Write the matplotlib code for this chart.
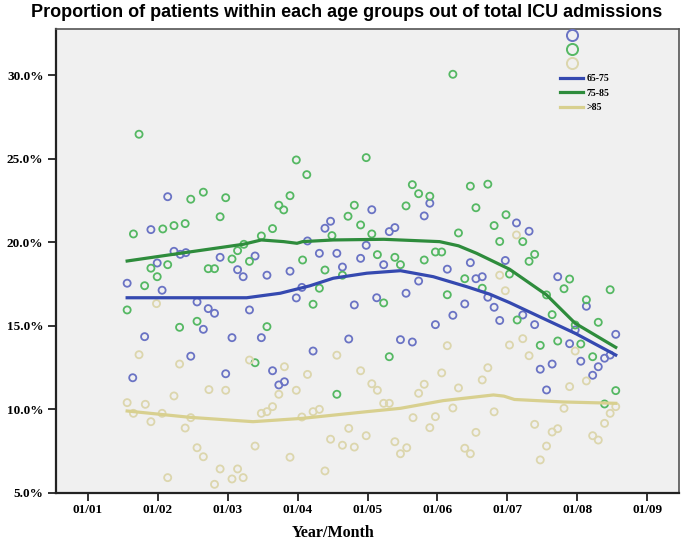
import matplotlib
matplotlib.use('Agg')
import matplotlib.pyplot as plt
from matplotlib.lines import Line2D
from matplotlib.ticker import FuncFormatter

# month position (1 = Jan 1st) and share of ICU admissions (%)
green_month = [1.56, 1.65, 1.73, 1.81, 1.90, 1.99, 2.07, 2.14, 2.23, 2.31,
               2.39, 2.47, 2.56, 2.65, 2.72, 2.81, 2.89, 2.97, 3.06, 3.14,
               3.23, 3.31, 3.39, 3.48, 3.56, 3.64, 3.73, 3.80, 3.89, 3.98,
               4.07, 4.13, 4.22, 4.31, 4.39, 4.49, 4.56, 4.64, 4.72, 4.81,
               4.90, 4.98, 5.06, 5.14, 5.23, 5.31, 5.39, 5.47, 5.55, 5.64,
               5.73, 5.81, 5.89, 5.97, 6.06, 6.14, 6.22, 6.30, 6.39, 6.47,
               6.55, 6.64, 6.72, 6.81, 6.89, 6.98, 7.03, 7.14, 7.22, 7.31,
               7.39, 7.47, 7.56, 7.64, 7.72, 7.81, 7.89, 7.97, 8.05, 8.13,
               8.22, 8.30, 8.39, 8.47, 8.55]
green_pct = [15.96, 20.51, 26.48, 17.41, 18.46, 17.95, 20.81, 18.67, 21.01, 14.92,
             21.13, 22.59, 15.28, 23.01, 18.43, 18.43, 21.54, 22.68, 19.01, 19.51,
             19.89, 18.87, 12.80, 20.39, 14.96, 20.83, 22.23, 21.95, 22.80, 24.94,
             18.95, 24.06, 16.30, 17.26, 18.35, 20.41, 10.91, 18.04, 21.57, 22.23,
             21.05, 25.08, 20.51, 19.27, 16.38, 13.16, 19.11, 18.67, 22.19, 23.46,
             22.92, 18.95, 22.77, 19.43, 19.43, 16.87, 30.07, 20.57, 17.83, 23.37,
             22.08, 17.26, 23.49, 21.01, 20.06, 21.66, 18.11, 15.36, 20.05, 18.87,
             19.29, 13.84, 16.86, 15.68, 14.10, 17.23, 17.81, 15.06, 13.92, 16.57,
             13.16, 15.22, 10.33, 17.17, 11.13]

blue_month = [1.56, 1.64, 1.81, 1.90, 1.99, 2.06, 2.14, 2.23, 2.32, 2.40,
              2.47, 2.56, 2.65, 2.72, 2.81, 2.89, 2.97, 3.06, 3.14, 3.22,
              3.31, 3.39, 3.48, 3.56, 3.64, 3.73, 3.81, 3.89, 3.98, 4.06,
              4.14, 4.22, 4.31, 4.39, 4.47, 4.56, 4.64, 4.73, 4.81, 4.90,
              4.98, 5.06, 5.13, 5.23, 5.31, 5.39, 5.47, 5.55, 5.64, 5.73,
              5.81, 5.89, 5.97, 6.14, 6.22, 6.39, 6.47, 6.55, 6.64, 6.72,
              6.81, 6.89, 6.97, 7.13, 7.22, 7.31, 7.39, 7.47, 7.56, 7.64,
              7.72, 7.89, 7.97, 8.05, 8.13, 8.22, 8.30, 8.39, 8.47, 8.55]
blue_pct = [17.56, 11.90, 14.36, 20.77, 18.77, 17.14, 22.74, 19.47, 19.29, 19.39,
            13.19, 16.44, 14.80, 16.04, 15.76, 19.11, 12.14, 14.30, 18.37, 17.95,
            15.96, 19.19, 14.30, 18.04, 12.32, 11.47, 11.66, 18.28, 16.68, 17.31,
            20.09, 13.50, 19.35, 20.85, 21.27, 19.35, 18.53, 14.22, 16.26, 19.05,
            19.83, 21.96, 16.69, 18.67, 20.65, 20.89, 14.18, 16.96, 14.04, 17.69,
            21.59, 22.35, 15.08, 18.40, 15.64, 16.32, 18.79, 17.83, 17.95, 16.72,
            16.12, 15.33, 18.92, 21.17, 15.66, 20.67, 15.08, 12.41, 11.17, 12.72,
            17.95, 13.94, 14.76, 12.89, 16.18, 12.05, 12.56, 13.07, 13.26, 14.50]

tan_month = [1.56, 1.65, 1.73, 1.82, 1.90, 1.98, 2.06, 2.14, 2.23, 2.31,
             2.39, 2.47, 2.56, 2.65, 2.73, 2.81, 2.89, 2.97, 3.06, 3.14,
             3.22, 3.31, 3.39, 3.48, 3.56, 3.64, 3.73, 3.81, 3.89, 3.98,
             4.06, 4.14, 4.22, 4.31, 4.39, 4.47, 4.56, 4.64, 4.73, 4.81,
             4.90, 4.98, 5.06, 5.14, 5.23, 5.31, 5.39, 5.47, 5.56, 5.65,
             5.73, 5.81, 5.89, 5.97, 6.06, 6.14, 6.22, 6.30, 6.39, 6.47,
             6.55, 6.64, 6.72, 6.81, 6.89, 6.97, 7.03, 7.13, 7.22, 7.31,
             7.39, 7.47, 7.56, 7.64, 7.72, 7.81, 7.89, 7.97, 8.13, 8.22,
             8.30, 8.39, 8.47, 8.55]
tan_pct = [10.41, 9.77, 13.28, 10.31, 9.27, 16.34, 9.77, 5.92, 10.81, 12.72,
           8.89, 9.51, 7.71, 7.17, 11.19, 5.52, 6.44, 11.15, 5.84, 6.44,
           5.92, 12.96, 7.81, 9.77, 9.87, 10.17, 10.91, 12.56, 7.14, 11.15,
           9.55, 12.10, 9.87, 10.01, 6.32, 8.22, 13.25, 7.86, 8.87, 7.75,
           12.32, 8.43, 11.54, 11.15, 10.37, 10.37, 8.07, 7.35, 7.71, 9.51,
           10.97, 11.51, 8.91, 9.57, 12.19, 13.82, 10.09, 11.29, 7.68, 7.35,
           8.63, 11.77, 12.50, 9.86, 18.04, 17.11, 13.86, 20.45, 14.24, 13.22,
           9.11, 6.98, 7.81, 8.65, 8.85, 10.07, 11.37, 13.50, 11.71, 8.43,
           8.17, 9.17, 9.77, 10.17]

# smoothed fit lines
green_fit_month = [1.56, 2.40, 3.22, 3.48, 3.80, 3.99, 4.07, 4.51, 5.23, 6.03,
                   6.30, 6.56, 7.03, 7.56, 7.97, 8.55]
green_fit_pct = [18.89, 19.40, 19.89, 20.15, 20.05, 19.95, 20.05, 20.15, 20.19, 20.05,
                 19.80, 19.35, 18.40, 16.86, 15.16, 13.72]
blue_fit_month = [1.56, 2.40, 3.27, 3.75, 4.17, 4.51, 4.99, 5.47, 5.94, 6.42,
                  6.75, 7.03, 7.56, 7.97, 8.55]
blue_fit_pct = [16.69, 16.69, 16.69, 16.96, 17.40, 17.86, 18.16, 18.31, 17.95, 17.35,
                16.90, 16.40, 15.36, 14.56, 13.26]
tan_fit_month = [1.56, 2.46, 3.36, 4.07, 4.99, 5.47, 6.08, 6.80, 6.95, 7.10, 7.80, 8.55]
tan_fit_pct = [9.91, 9.53, 9.27, 9.47, 9.87, 10.07, 10.53, 10.87, 10.80, 10.60, 10.45, 10.37]

month_ticks = [1, 2, 3, 4, 5, 6, 7, 8, 9]
month_labels = ['01/01', '01/02', '01/03', '01/04', '01/05', '01/06', '01/07', '01/08', '01/09']
pct_ticks = [5, 10, 15, 20, 25, 30]
group_labels = ['65-75', '75-85', '>85']

c_blue, c_blue_line = '#6a73c4', '#3549b0'
c_green, c_green_line = '#55b863', '#2e8c3c'
c_tan, c_tan_line = '#dcd6ad', '#d8d08f'

serif = 'Liberation Serif'

fig = plt.figure(figsize=(6.82, 5.58), dpi=100)
ax = fig.add_axes([0.0821, 0.1165, 0.9135, 0.8315])
ax.set_facecolor('#f0f0f0')

marker_kw = dict(s=26, facecolors='none', linewidths=1.3, zorder=3)
ax.scatter(blue_month, blue_pct, edgecolors=c_blue, **marker_kw)
ax.scatter(green_month, green_pct, edgecolors=c_green, **marker_kw)
ax.scatter(tan_month, tan_pct, edgecolors=c_tan, **marker_kw)

ax.plot(blue_fit_month, blue_fit_pct, color=c_blue_line, lw=2.3, zorder=4)
ax.plot(green_fit_month, green_fit_pct, color=c_green_line, lw=2.3, zorder=4)
ax.plot(tan_fit_month, tan_fit_pct, color=c_tan_line, lw=2.3, zorder=4)

ax.set_xlim(0.542, 9.455)
ax.set_ylim(5.0, 32.78)
ax.set_xticks(month_ticks)
ax.set_xticklabels(month_labels)
ax.set_yticks(pct_ticks)
ax.yaxis.set_major_formatter(FuncFormatter(lambda v, p: '%.1f%%' % v))
ax.tick_params(axis='both', direction='out', length=6, width=1.3, color='#222222',
               labelsize=9.5, pad=3)
ax.tick_params(axis='x', pad=2)
for lab in ax.get_xticklabels() + ax.get_yticklabels():
    lab.set_fontfamily(serif)
    lab.set_fontweight('bold')

for side in ['left', 'bottom']:
    ax.spines[side].set_linewidth(1.6)
    ax.spines[side].set_color('#222222')
for side in ['top', 'right']:
    ax.spines[side].set_linewidth(1.2)
    ax.spines[side].set_color('#555555')

fig.text(0.508, 0.977, 'Proportion of patients within each age groups out of total ICU admissions',
         ha='center', va='center', fontsize=13, fontweight='bold', family='Liberation Sans')
fig.text(0.488, 0.045, 'Year/Month', ha='center', va='center', fontsize=11.5,
         fontweight='bold', family=serif)

# legend: circles first, then fit lines with labels
handles = []
labels = []
for c in [c_blue, c_green, c_tan]:
    handles.append(Line2D([], [], marker='o', linestyle='none', markerfacecolor='none',
                          markeredgecolor=c, markeredgewidth=1.4, markersize=8))
    labels.append('')
for c, lab in zip([c_blue_line, c_green_line, c_tan_line], group_labels):
    handles.append(Line2D([], [], color=c, lw=2.3))
    labels.append(lab)
leg = ax.legend(handles, labels, loc='upper left', bbox_to_anchor=(560 / 682, 1 - 31 / 558),
                bbox_transform=fig.transFigure, frameon=False, borderpad=0, borderaxespad=0,
                handlelength=2.4, handletextpad=0.3, labelspacing=0.56,
                prop={'family': serif, 'weight': 'bold', 'size': 7})

fig.savefig('out.png', dpi=100, facecolor='white')
